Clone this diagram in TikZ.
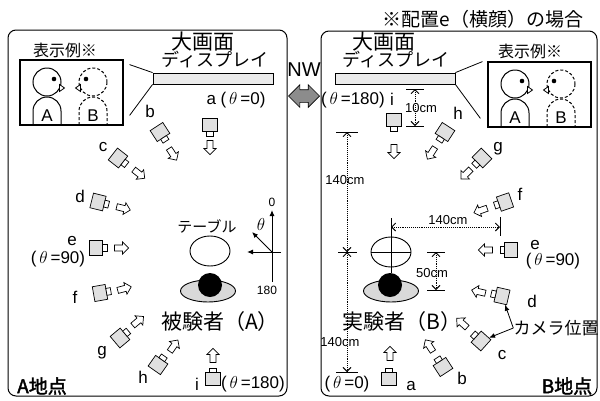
\documentclass[tikz,border=0pt]{standalone}
\usepackage{fontspec}
\setmainfont{Liberation Sans}
\newfontfamily\jp{Noto Sans CJK JP}[AutoFakeBold=2]
\usetikzlibrary{shapes.arrows,shapes.geometric,arrows.meta}
\tikzset{
  panel/.style={draw, line width=1pt, rounded corners=8pt},
  lab/.style={font=\fontsize{17}{17}\selectfont, inner sep=0pt},
  small/.style={font=\fontsize{13}{13}\selectfont, inner sep=0pt},
  jlab/.style={font=\jp\fontsize{#1}{#1}\selectfont, inner sep=0pt},
  lookarrow/.style={single arrow, draw, line width=0.7pt, fill=white, minimum height=14pt,
    inner sep=2.7pt, single arrow head extend=3pt},
  cambody/.style={draw, line width=0.7pt, fill=black!12, minimum width=13pt,
    minimum height=15pt, inner sep=0pt, transform shape},
  dispbar/.style={draw, line width=0.8pt, fill=black!8, minimum width=120pt,
    minimum height=11pt, inner sep=0pt},
  desk/.style={ellipse, draw, line width=0.9pt, minimum width=40pt, minimum height=30pt, inner sep=0pt},
  seat/.style={ellipse, draw, line width=0.9pt, fill=black!15, minimum width=55pt,
    minimum height=22pt, inner sep=0pt},
  head/.style={circle, fill=black, minimum size=24pt, inner sep=0pt},
  dimline/.style={line width=0.9pt, densely dotted,
    {Straight Barb[length=4pt,width=8pt]}-{Straight Barb[length=4pt,width=8pt]}},
  tick/.style={line width=1pt},
  dashy/.style={line width=1pt, dash pattern=on 3pt off 2pt},
  camera/.pic={
    \node[cambody] (-body) at (0,0) {};
    \draw[line width=0.7pt, fill=white] (6.5,-3.5) rectangle (11,3.5);
  },
  showbox/.pic={
    \draw[line width=2.2pt] (0,0) rectangle (103,65);
    % A, solid
    \draw[line width=1pt] (27,22) circle[radius=14];
    \fill (34,19) circle[radius=2.3];
    \draw[line width=0.8pt, fill=white] (39.5,24.5) -- (44.5,28) -- (39.5,31.5) -- cycle;
    \draw[line width=1pt] (13,65) -- (13,51) arc[start angle=180, end angle=360, radius=14] -- (41,65);
    \node[font=\fontsize{17}{17}\selectfont, inner sep=0pt] (-A) at (27,56) {A};
    % B, dashed
    \draw[dashy] (73,22) circle[radius=14];
    \fill (66,19) circle[radius=2.3];
    \draw[line width=0.8pt, fill=white] (60.5,24.5) -- (55.5,28) -- (60.5,31.5) -- cycle;
    \draw[dashy] (59,65) -- (59,51) arc[start angle=180, end angle=360, radius=14] -- (87,65);
    \node[font=\fontsize{17}{17}\selectfont, inner sep=0pt] (-B) at (73,56) {B};
  },
}

\begin{document}
\begin{tikzpicture}[x=1pt, y=-1pt]
  \useasboundingbox (0,0) rectangle (600,400);
  \draw[panel] (8,30) rectangle (287,396);
  \draw[panel] (321,31) rectangle (597,396);
  \node[jlab=19] (title) at (483,19) {※配置e（横顔）の場合};
  \node[font=\fontsize{20}{20}\selectfont, inner sep=0pt] (nwlab) at (304,70) {NW};
  \node[double arrow, draw, fill=black!45, line width=0.7pt, minimum height=31pt,
    inner sep=6pt, double arrow head extend=5pt] (nw) at (304,96) {};

  % A side
  \node[jlab=16] (exL) at (65,50) {表示例※};
  \pic (boxL) at (20,60) {showbox};
  \node[jlab=21] (bigL) at (203,42) {大画面};
  \node[jlab=18] (dispL) at (215,60) {ディスプレイ};
  \node[dispbar] (barL) at (213,78.5) {};
  \draw[line width=0.8pt] (barL.north west) -- +(-23,-8);
  \draw[line width=0.8pt] (barL.south west) -- +(-23,31);
  \node[jlab=15] (deskLlab) at (207,226) {テーブル};
  \node[desk] (deskL) at (210,251) {};
  \node[seat] (seatL) at (208,291) {};
  \node[head] (headL) at (210,285) {};
  \node[jlab=21] (subjA) at (220,322) {被験者（A）};
  \node[font=\jp\bfseries\fontsize{19}{19}\selectfont, inner sep=0pt] (siteA) at (42,386) {A地点};
  % angle sketch
  \coordinate (axO) at (272,252);
  \coordinate (axT) at (272,210);
  \coordinate (axB) at (272,282);
  \draw[line width=1pt, -{Latex[length=6pt,width=5pt]}] (axB) -- (axT);
  \draw[line width=1pt, -{Latex[length=6pt,width=5pt]}] (281,252) -- (247,252);
  \draw[line width=1pt, -{Latex[length=6pt,width=5pt]}] (axO) -- (252,232);
  \node[font=\fontsize{12}{12}\selectfont, inner sep=0pt] (deg0) at (272,202) {0};
  \node[font=\fontsize{12}{12}\selectfont, inner sep=0pt] (deg180) at (267,290) {180};
  \node[font=\fontsize{16}{16}\selectfont, inner sep=0pt] (thL) at (261,224) {$\theta$};
  % cameras
  \pic[rotate=-90] (La) at (210,125) {camera};
  \pic[rotate=-57] (Lb) at (160,132) {camera};
  \pic[rotate=-38] (Lc) at (118,158) {camera};
  \pic[rotate=-14] (Ld) at (98,202) {camera};
  \pic[rotate=0]   (Le) at (96,248) {camera};
  \pic[rotate=10]  (Lf) at (100,293) {camera};
  \pic[rotate=40]  (Lg) at (120,338) {camera};
  \pic[rotate=55]  (Lh) at (158,365) {camera};
  \pic[rotate=90]  (Li) at (213,379) {camera};
  \node[lookarrow, rotate=-90] (vLa) at (210,146) {};
  \node[lookarrow, rotate=-57] (vLb) at (172,153) {};
  \node[lookarrow, rotate=-38] (vLc) at (138,173) {};
  \node[lookarrow, rotate=-14] (vLd) at (122,208) {};
  \node[lookarrow, rotate=0]   (vLe) at (120,248) {};
  \node[lookarrow, rotate=15]  (vLf) at (123,289) {};
  \node[lookarrow, rotate=40]  (vLg) at (137,322) {};
  \node[lookarrow, rotate=55]  (vLh) at (173,347) {};
  \node[lookarrow, rotate=90]  (vLi) at (213,357) {};
  \node[lab] (tLa) at (236,100) {a (\,$\theta$\,=0)};
  \node[lab] (tLb) at (150,111) {b};
  \node[lab] (tLc) at (103,147) {c};
  \node[lab] (tLd) at (80,196) {d};
  \node[lab] (tLe) at (72,241) {e};
  \node[lab] (tLe2) at (58,259) {(\,$\theta$\,=90)};
  \node[lab] (tLf) at (75,297) {f};
  \node[lab] (tLg) at (102,353) {g};
  \node[lab] (tLh) at (143,377) {h};
  \node[lab] (tLi) at (197,384) {i};
  \node[lab] (tLi2) at (253,384) {(\,$\theta$\,=180)};

  % B side
  \node[jlab=16] (exR) at (530,51) {表示例※};
  \pic (boxR) at (488,62) {showbox};
  \node[jlab=21] (bigR) at (384,42) {大画面};
  \node[jlab=18] (dispR) at (396,60) {ディスプレイ};
  \node[dispbar] (barR) at (395,78.5) {};
  \draw[line width=0.8pt] (barR.north east) -- +(27,-11);
  \draw[line width=0.8pt] (barR.south east) -- +(25,34);
  \node[desk] (deskR) at (391,252) {};
  \draw[line width=0.8pt] (391,218) -- (391,273);
  \draw[line width=0.8pt] (deskR.west) -- (deskR.east);
  \node[seat] (seatR) at (391,291) {};
  \node[head] (headR) at (390,285) {};
  \node[jlab=21] (subjB) at (402,322) {実験者（B）};
  \node[font=\jp\bfseries\fontsize{19}{19}\selectfont, inner sep=0pt] (siteB) at (567,386) {B地点};
  % distances
  \coordinate (vTop) at (347,132);
  \coordinate (vMid) at (347,252);
  \coordinate (vBot) at (347,372);
  \draw[tick] (336,132) -- (358,132);
  \draw[tick] (338,252) -- (357,252);
  \draw[tick] (336,372) -- (358,372);
  \draw[dimline] (vTop) -- (vMid);
  \draw[dimline] (vMid) -- (vBot);
  \node[small] (d140a) at (345,180) {140cm};
  \node[small] (d140b) at (340,342) {140cm};
  \draw[tick] (500,217) -- (500,236);
  \draw[dimline] (391,227) -- (500,227);
  \node[small] (d140c) at (448,220) {140cm};
  \draw[tick] (406,89) -- (424,89);
  \draw[tick] (406,126) -- (424,126);
  \draw[dimline] (415,89) -- (415,126);
  \node[small] (d10) at (421,108) {10cm};
  \draw[tick] (427,252) -- (445,252);
  \draw[tick] (427,290) -- (445,290);
  \draw[dimline] (436,252) -- (436,290);
  \node[small] (d50) at (432,273) {50cm};
  % cameras
  \pic[rotate=-90]  (Ri) at (394,120) {camera};
  \pic[rotate=-123] (Rh) at (445,132) {camera};
  \pic[rotate=-135] (Rg) at (482,158) {camera};
  \pic[rotate=-161] (Rf) at (505,202) {camera};
  \pic[rotate=180]  (Re) at (511,250) {camera};
  \pic[rotate=167]  (Rd) at (502,296) {camera};
  \pic[rotate=138]  (Rc) at (481,341) {camera};
  \pic[rotate=123]  (Rb) at (443,367) {camera};
  \pic[rotate=90]   (Ra) at (389,379) {camera};
  \node[lookarrow, rotate=-90]  (vRi) at (394,150) {};
  \node[lookarrow, rotate=-123] (vRh) at (432,152) {};
  \node[lookarrow, rotate=-135] (vRg) at (467,173) {};
  \node[lookarrow, rotate=-161] (vRf) at (482,210) {};
  \node[lookarrow, rotate=180]  (vRe) at (487,250) {};
  \node[lookarrow, rotate=167]  (vRd) at (480,292) {};
  \node[lookarrow, rotate=138]  (vRc) at (463,324) {};
  \node[lookarrow, rotate=123]  (vRb) at (430,347) {};
  \node[lookarrow, rotate=90]   (vRa) at (390,355) {};
  \node[lab] (tRi2) at (353,100) {(\,$\theta$\,=180)};
  \node[lab] (tRi) at (392,99) {i};
  \node[lab] (tRh) at (458,113) {h};
  \node[lab] (tRg) at (498,149) {g};
  \node[lab] (tRf) at (520,194) {f};
  \node[lab] (tRe) at (535,245) {e};
  \node[lab] (tRe2) at (553,261) {(\,$\theta$\,=90)};
  \node[lab] (tRd) at (532,301) {d};
  \node[lab] (tRc) at (502,355) {c};
  \node[lab] (tRb) at (462,378) {b};
  \node[lab] (tRa) at (411,386) {a};
  \node[lab] (tR0) at (347,384) {(\,$\theta$\,=0)};
  \node[jlab=17] (campos) at (556,328) {カメラ位置};
  \draw[line width=0.8pt, -{Latex[length=6pt,width=5pt]}] (campos.west) -- (Rd-body);
  \draw[line width=0.8pt, -{Latex[length=6pt,width=5pt]}] (campos.west) -- (Rc-body);
\end{tikzpicture}
\end{document}
